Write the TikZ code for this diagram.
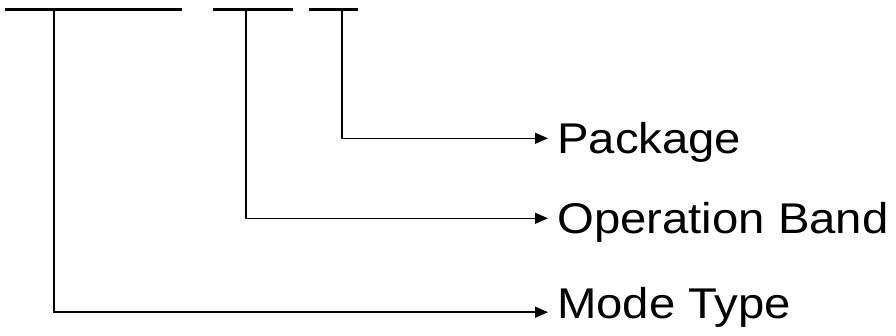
\documentclass[tikz,border=0pt]{standalone}
\usepackage{fontspec}
\setmainfont{Liberation Sans}
\usepackage{tikz}
\usetikzlibrary{arrows.meta}
\usetikzlibrary{positioning}
\tikzstyle{bar} = [draw,line width=3pt]
\tikzstyle{edge} = [draw,line width=1.5pt,-{Triangle[length=13pt,width=11pt]}]
\tikzstyle{field} = [anchor=west,inner xsep=9pt,inner ysep=0pt,text height=30.8pt,font=\fontsize{43}{52}\selectfont]
\newcommand{\wide}[1]{\scalebox{1.1}[1]{#1}}

\begin{document}
\begin{tikzpicture}[x=1pt,y=-1pt]

 \useasboundingbox (0,0) rectangle (896,335);

 %fields
 \foreach \x/\y/\low/\name/\label in {548/138.3/0/pkg/Package, 548/218.3/0/band/Operation Band, 548/312.2/18/mode/Mode Type}
          \node[field,text depth=\low pt] (\name) at (\x,\y) {\wide{\label}};

 %bars
 \foreach \a/\b/\name in {5/182/m, 213/293/b, 309/358/p}
 {
   \coordinate (\name L) at (\a,9);
   \coordinate (\name R) at (\b,9);
   \path[bar] (\name L) -- (\name R);
 }

 %taps
 \foreach \x/\name/\dest in {54/m/mode, 246/b/band, 342/p/pkg}
 {
   \coordinate (\name T) at (\x,9);
   \path[edge] (\name T) |- (\dest.west);
 }

\end{tikzpicture}
\end{document}
